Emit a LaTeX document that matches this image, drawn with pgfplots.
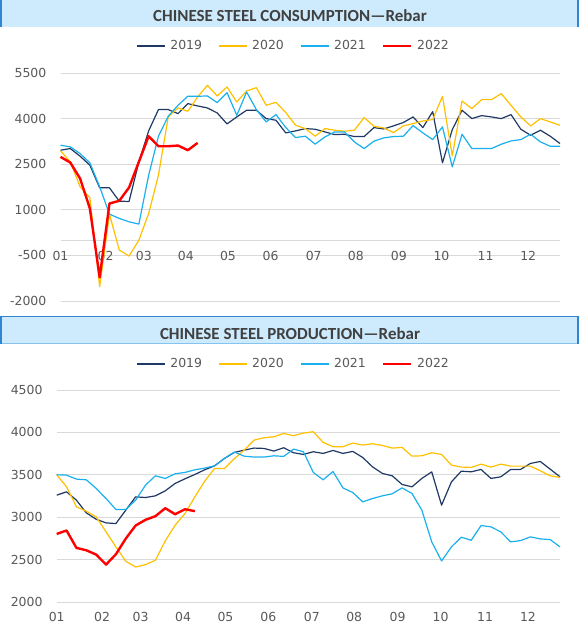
\documentclass[border=0pt]{standalone}
\usepackage{fontspec}
\setmainfont{DejaVu Sans}
\newfontfamily\titlefont{Carlito}
\usepackage{pgfplots}
\usepackage{pgfplotstable}
\pgfplotsset{compat=1.18}
\definecolor{c19}{HTML}{1F3864}
\definecolor{c20}{HTML}{FFC000}
\definecolor{c21}{HTML}{1AB0EE}
\definecolor{c22}{HTML}{FF0000}
\definecolor{gridc}{HTML}{D9D9D9}
\definecolor{tickc}{HTML}{595959}
\definecolor{titlec}{HTML}{404040}
\definecolor{band}{HTML}{CDEBFD}
\definecolor{bandborder}{HTML}{2E86D2}
\definecolor{bandlight}{HTML}{86C3EE}

\pgfplotstableread{
i a19 a20 a21
0 2960 2938 3124
1 3015 2576 3069
2 2763 1755 2850
3 2467 1394 2543
4 1722 -1530 1755
5 1722 857 857
6 1284 -325 715
7 1273 -522 605
8 2576 0 529
9 3595 879 2138
10 4296 2138 3420
11 4296 4055 4077
12 4164 4350 4438
13 4493 4241 4734
14 4416 4712 4734
15 4350 5095 4744
16 4186 4744 4526
17 3825 5040 4854
18 4055 4547 4109
19 4274 4909 4876
20 4274 5018 4296
21 4000 4438 3890
22 3945 4536 4131
23 3529 4197 3704
24 3595 3781 3376
25 3671 3671 3420
26 3649 3420 3157
27 3562 3671 3398
28 3474 3617 3562
29 3485 3584 3562
30 3409 3617 3233
31 3409 4033 3014
32 3704 3748 3255
33 3660 3693 3365
34 3760 3540 3409
35 3870 3759 3420
36 4055 3836 3770
37 3704 3923 3529
38 4230 3967 3310
39 2544 4734 3726
40 3639 2773 2412
41 4274 4580 3485
42 4000 4328 3014
43 4098 4624 3014
44 4055 4624 3014
45 4000 4821 3157
46 4131 4438 3266
47 3649 4055 3310
48 3452 3759 3485
49 3617 4000 3233
50 3420 3890 3091
51 3179 3781 3091
}\constab
\pgfplotstableread{
i a22
0 2741
1 2554
2 2029
3 1043
4 -1223
5 1208
6 1295
7 1733
8 2576
9 3420
10 3091
11 3091
12 3113
13 2960
14 3200
}\constabb
\pgfplotstableread{
i a19 a20 a21
0 3260 3500 3500
1 3299 3358 3496
2 3201 3122 3449
3 3051 3071 3441
4 2976 3004 3339
5 2933 2827 3220
6 2925 2650 3091
7 3083 2480 3091
8 3240 2413 3201
9 3232 2441 3378
10 3252 2492 3488
11 3311 2720 3457
12 3398 2906 3512
13 3453 3043 3528
14 3504 3240 3559
15 3559 3425 3579
16 3606 3575 3606
17 3693 3575 3693
18 3764 3690 3768
19 3791 3791 3720
20 3815 3909 3709
21 3811 3937 3709
22 3780 3949 3724
23 3819 3988 3717
24 3760 3961 3803
25 3740 3992 3772
26 3772 4008 3528
27 3752 3882 3441
28 3787 3831 3539
29 3752 3831 3346
30 3776 3874 3291
31 3705 3850 3181
32 3594 3866 3220
33 3516 3846 3252
34 3488 3815 3276
35 3386 3823 3346
36 3358 3720 3280
37 3457 3724 3083
38 3535 3760 2709
39 3142 3740 2484
40 3417 3614 2650
41 3543 3591 2764
42 3535 3587 2728
43 3563 3626 2902
44 3457 3591 2886
45 3476 3626 2827
46 3563 3602 2709
47 3563 3602 2724
48 3634 3602 2768
49 3657 3547 2744
50 3567 3488 2736
51 3476 3469 2650
}\prodtab
\pgfplotstableread{
i a22
0 2803
1 2843
2 2638
3 2610
4 2559
5 2441
6 2563
7 2748
8 2902
9 2969
10 3012
11 3106
12 3035
13 3094
14 3071
}\prodtabb

\pgfplotsset{
  panel/.style={
    scale only axis,
    xmin=0, xmax=51,
    axis line style={draw=none},
    major tick length=0,
    ymajorgrids, grid style={gridc, line width=0.9bp},
    xtick={0,4.6,8.5,12.8,17.1,21.45,25.85,30.15,34.55,38.9,43.4,47.75},
    xticklabels={01,02,03,04,05,06,07,08,09,10,11,12},
    tick label style={font=\fontsize{12.5}{14}\selectfont, text=tickc},
    yticklabel style={anchor=east, inner sep=0pt, xshift=-14bp},
    xticklabel style={anchor=center, inner sep=0pt},
    legend columns=4,
    legend style={draw=none, fill=none, anchor=center,
      font=\fontsize{12.5}{14}\selectfont, text=tickc,
      /tikz/every odd column/.append style={column sep=3bp},
      /tikz/every even column/.append style={column sep=14bp}},
    legend image code/.code={\draw[##1] (0bp,0bp) -- (28bp,0bp);},
    clip=false,
  },
  s19/.style={c19, line width=1.2bp, line join=round},
  s20/.style={c20, line width=1.2bp, line join=round},
  s21/.style={c21, line width=1.2bp, line join=round},
  s22/.style={c22, line width=2.4bp, line join=round},
}

\begin{document}
\begin{tikzpicture}[x=1bp,y=1bp]
\path[use as bounding box] (0,0) rectangle (579,631);
% top title band
\fill[band] (0,604) rectangle (579,631);
\fill[bandborder] (0,604) rectangle (2,631);
\fill[bandborder] (577,604) rectangle (579,631);
\node[font=\titlefont\bfseries\fontsize{17}{20}\selectfont, text=titlec] at (290,615.5) {CHINESE STEEL CONSUMPTION—Rebar};
% bottom title band
\fill[band] (0,286.5) rectangle (579,314.5);
\draw[bandborder, line width=1bp] (0,314) -- (579,314);
\draw[bandlight, line width=1bp] (0,287) -- (579,287);
\fill[bandborder] (0,286.5) rectangle (2,314.5);
\fill[bandborder] (577,286.5) rectangle (579,314.5);
\node[font=\titlefont\bfseries\fontsize{17}{20}\selectfont, text=titlec] at (290,297.5) {CHINESE STEEL PRODUCTION—Rebar};

\begin{axis}[panel,
  anchor=south west, at={(60.5bp,330bp)}, width=499.5bp, height=228bp,
  ymin=-2000, ymax=5500,
  ytick={-2000,-500,1000,2500,4000,5500},
  yticklabels={-2000,-500,1000,2500,4000,5500},
  extra y ticks={0}, extra y tick labels={},
  xticklabel style={yshift=45bp},
  legend style={at={(0.4665,1.118)}},
]
\addplot[s19] table[x=i,y=a19] {\constab};
\addplot[s20] table[x=i,y=a20] {\constab};
\addplot[s21] table[x=i,y=a21] {\constab};
\addplot[s22] table[x=i,y=a22] {\constabb};
\legend{2019,2020,2021,2022}
\end{axis}

\begin{axis}[panel,
  anchor=south west, at={(56.7bp,29bp)}, width=503.3bp, height=212bp,
  ymin=2000, ymax=4500,
  ytick={2000,2500,3000,3500,4000,4500},
  yticklabels={2000,2500,3000,3500,4000,4500},
  xticklabel style={yshift=-15bp},
  legend style={at={(0.4705,1.1226)}},
]
\addplot[s19] table[x=i,y=a19] {\prodtab};
\addplot[s20] table[x=i,y=a20] {\prodtab};
\addplot[s21] table[x=i,y=a21] {\prodtab};
\addplot[s22] table[x=i,y=a22] {\prodtabb};
\legend{2019,2020,2021,2022}
\end{axis}
\end{tikzpicture}
\end{document}
